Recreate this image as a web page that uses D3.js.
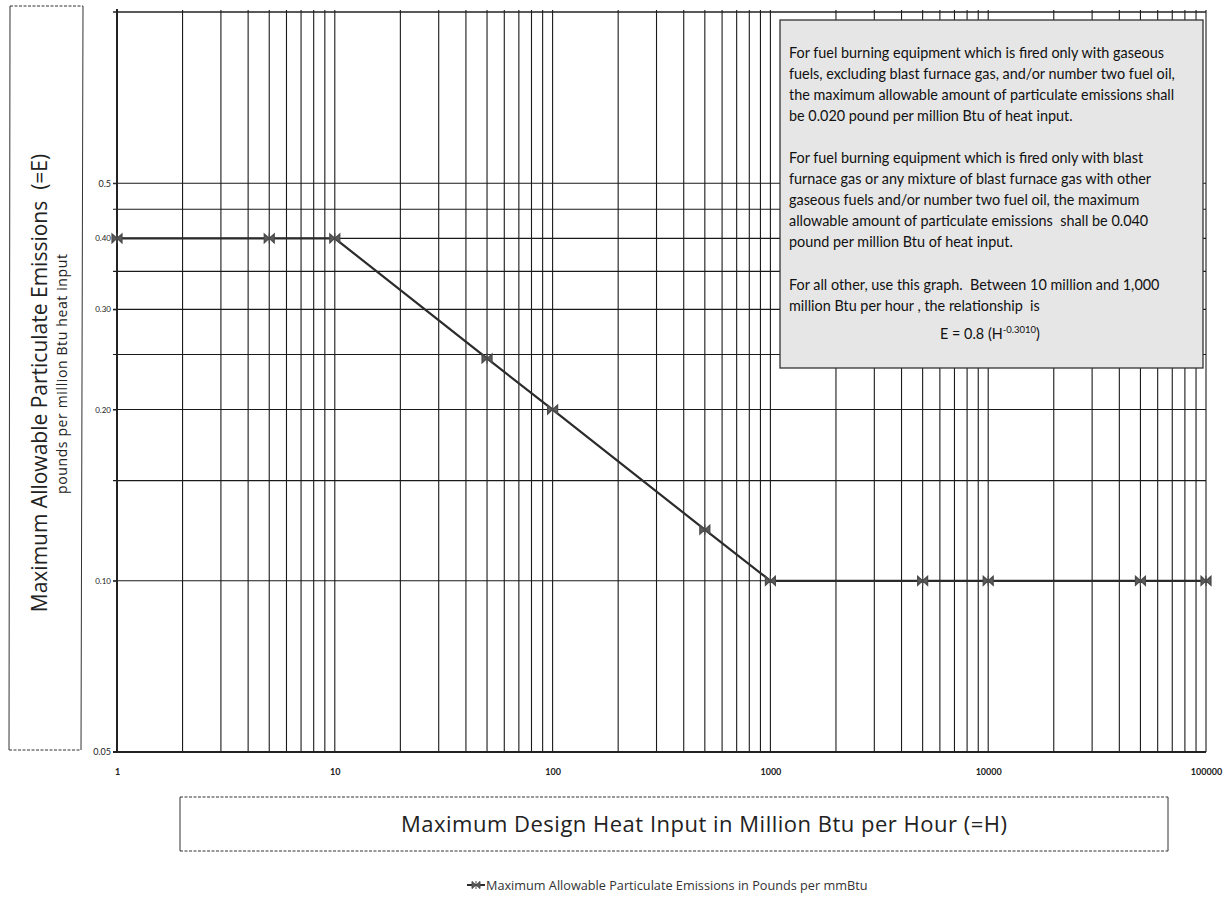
<!DOCTYPE html>
<html>
<head>
<meta charset="utf-8">
<script src="https://cdn.jsdelivr.net/npm/d3@7"></script>
<style>
  body { margin: 0; background: #fff; }
  svg { display: block; }
</style>
</head>
<body>
<div id="chart"></div>
<script>
// data
var heatInput = [1, 5, 10, 50, 100, 500, 1000, 5000, 10000, 50000, 100000];
var emissions = [0.40, 0.40, 0.40, 0.246, 0.20, 0.123, 0.10, 0.10, 0.10, 0.10, 0.10];
var xTickValues = [1, 10, 100, 1000, 10000, 100000];
var yTickValues = [0.05, 0.10, 0.20, 0.30, 0.40, 0.5];
var yTickLabels = ['0.05', '0.10', '0.20', '0.30', '0.40', '0.5'];
var yGridValues = [0.10, 0.15, 0.20, 0.25, 0.30, 0.35, 0.40, 0.45, 0.5];
var noteLines = [
  ['For fuel burning equipment which is fired only with gaseous',
   'fuels, excluding blast furnace gas, and/or number two fuel oil,',
   'the maximum allowable amount of particulate emissions shall',
   'be 0.020 pound per million Btu of heat input.'],
  ['For fuel burning equipment which is fired only with blast',
   'furnace gas or any mixture of blast furnace gas with other',
   'gaseous fuels and/or number two fuel oil, the maximum',
   'allowable amount of particulate emissions  shall be 0.040',
   'pound per million Btu of heat input.'],
  ['For all other, use this graph.  Between 10 million and 1,000',
   'million Btu per hour , the relationship  is']
];

var width = 1226, height = 914;
var plotLeft = 117, plotRight = 1206, plotTop = 12, plotBottom = 752;

var svg = d3.select('#chart').append('svg')
  .attr('width', width).attr('height', height);

var x = d3.scaleLog().domain([1, 100000]).range([plotLeft, plotRight]);
var y = d3.scaleLog().domain([0.05, 1]).range([plotBottom, plotTop]);

// vertical grid lines, every 1..9 in each decade
var xGrid = [];
for (var p = 0; p < 5; p++) {
  for (var m = 1; m < 10; m++) xGrid.push(m * Math.pow(10, p));
}
xGrid.push(100000);

svg.append('g').selectAll('line').data(xGrid).enter().append('line')
  .attr('x1', function(d){ return x(d); }).attr('x2', function(d){ return x(d); })
  .attr('y1', plotTop - 2).attr('y2', plotBottom)
  .style('stroke', '#1a1a1a').style('stroke-width', 1.1);

// horizontal grid lines
svg.append('g').selectAll('line').data(yGridValues).enter().append('line')
  .attr('x1', plotLeft - 4).attr('x2', plotRight)
  .attr('y1', function(d){ return y(d); }).attr('y2', function(d){ return y(d); })
  .style('stroke', '#1a1a1a').style('stroke-width', 1.1);

// frame lines
svg.append('line').attr('x1', plotLeft - 4).attr('x2', plotRight).attr('y1', plotTop).attr('y2', plotTop)
  .style('stroke', '#222').style('stroke-width', 1.6);
svg.append('line').attr('x1', plotLeft - 4).attr('x2', plotRight).attr('y1', plotBottom).attr('y2', plotBottom)
  .style('stroke', '#222').style('stroke-width', 1.8);
svg.append('line').attr('x1', plotLeft).attr('x2', plotLeft).attr('y1', plotTop - 3).attr('y2', plotBottom)
  .style('stroke', '#222').style('stroke-width', 2);

// axes (labels only, lines drawn above)
var xAxis = d3.axisBottom(x).tickValues(xTickValues).tickFormat(d3.format('d')).tickSize(0).tickPadding(17);
svg.append('g').attr('transform', 'translate(0,' + plotBottom + ')').call(xAxis)
  .call(function(g){ g.select('.domain').remove(); })
  .selectAll('text').style('font-family', 'Lato, sans-serif').style('font-size', '9px')
  .style('font-weight', 'bold').style('fill', '#222');

var yAxis = d3.axisLeft(y).tickValues(yTickValues)
  .tickFormat(function(d, i){ return yTickLabels[i]; }).tickSize(4).tickPadding(2);
svg.append('g').attr('transform', 'translate(' + plotLeft + ',0)').call(yAxis)
  .call(function(g){ g.select('.domain').remove(); g.selectAll('line').style('stroke', '#222'); })
  .selectAll('text').style('font-family', 'Lato, sans-serif')
  .style('font-size', function(d){ return (d === 0.05 || d === 0.5) ? '9px' : '8px'; })
  .style('fill', '#222');

// the series
var line = d3.line().x(function(d){ return x(d[0]); }).y(function(d){ return y(d[1]); });
var pts = heatInput.map(function(h, i){ return [h, emissions[i]]; });
svg.append('path').datum(pts).attr('d', line)
  .style('fill', 'none').style('stroke', '#2b2b2b').style('stroke-width', 2.2);

var markerPath = 'M-5,-4.5L0,0L-5,4.5ZM5,-4.5L0,0L5,4.5ZM0,-5L0,5';
svg.append('g').selectAll('path').data(pts).enter().append('path')
  .attr('transform', function(d){ return 'translate(' + x(d[0]) + ',' + y(d[1]) + ')'; })
  .attr('d', markerPath)
  .style('fill', '#5a5a5a').style('stroke', '#4a4a4a').style('stroke-width', 1.2);

// note box
var note = svg.append('g');
note.append('rect').attr('x', 780).attr('y', 20).attr('width', 423).attr('height', 348)
  .style('fill', '#e6e6e6').style('stroke', '#333').style('stroke-width', 1.3);
var baselines = [[58, 79, 100, 121], [163, 184, 205, 226, 247], [290, 311]];
noteLines.forEach(function(par, pi){
  par.forEach(function(t, li){
    note.append('text').attr('x', 789).attr('y', baselines[pi][li]).text(t)
      .style('white-space', 'pre')
      .style('font-family', 'Lato, sans-serif').style('font-size', '14.4px').style('fill', '#111');
  });
});
var formula = note.append('text').attr('x', 990).attr('y', 339).attr('text-anchor', 'middle')
  .style('font-family', 'Lato, sans-serif').style('font-size', '14.4px').style('fill', '#111');
formula.append('tspan').text('E = 0.8 (H');
formula.append('tspan').attr('dy', -6).style('font-size', '9.5px').text('-0.3010');
formula.append('tspan').attr('dy', 6).text(')');

// y title box
var yb = svg.append('g').style('stroke', '#333').style('stroke-width', 1);
yb.append('line').attr('x1', 10).attr('x2', 83).attr('y1', 6).attr('y2', 6).style('stroke-dasharray', '3,1.5');
yb.append('line').attr('x1', 9).attr('x2', 81).attr('y1', 750).attr('y2', 750).style('stroke-dasharray', '3,1.5');
yb.append('line').attr('x1', 10).attr('x2', 9).attr('y1', 6).attr('y2', 750);
yb.append('line').attr('x1', 83).attr('x2', 81).attr('y1', 6).attr('y2', 750);

svg.append('text').attr('transform', 'translate(47,383) rotate(-90)').attr('text-anchor', 'middle')
  .text('Maximum Allowable Particulate Emissions  (=E)')
  .style('white-space', 'pre')
  .style('font-family', '"Open Sans", sans-serif').style('font-size', '21px').style('fill', '#222');
svg.append('text').attr('transform', 'translate(67,374) rotate(-90)').attr('text-anchor', 'middle')
  .attr('textLength', 240).attr('lengthAdjust', 'spacing')
  .text('pounds per million Btu heat input')
  .style('font-family', '"Open Sans", sans-serif').style('font-size', '14px').style('fill', '#222');

// x title box
var xb = svg.append('g').style('stroke', '#333').style('stroke-width', 1);
xb.append('line').attr('x1', 180).attr('x2', 1168).attr('y1', 797).attr('y2', 797).style('stroke-dasharray', '3,1.5');
xb.append('line').attr('x1', 180).attr('x2', 1168).attr('y1', 851).attr('y2', 851).style('stroke-dasharray', '3,1.5');
xb.append('line').attr('x1', 180).attr('x2', 180).attr('y1', 797).attr('y2', 851);
xb.append('line').attr('x1', 1168).attr('x2', 1168).attr('y1', 797).attr('y2', 851);

svg.append('text').attr('x', 704).attr('y', 832).attr('text-anchor', 'middle')
  .attr('textLength', 606).attr('lengthAdjust', 'spacing')
  .text('Maximum Design Heat Input in Million Btu per Hour (=H)')
  .style('font-family', '"Open Sans", sans-serif').style('font-size', '22px').style('fill', '#222');

// legend
var lg = svg.append('g').attr('transform', 'translate(467,885)');
lg.append('line').attr('x1', 0).attr('x2', 18).attr('y1', 0).attr('y2', 0)
  .style('stroke', '#2b2b2b').style('stroke-width', 2);
lg.append('path').attr('transform', 'translate(9,0) scale(0.8)').attr('d', markerPath)
  .style('fill', '#5a5a5a').style('stroke', '#4a4a4a').style('stroke-width', 1.2);
lg.append('text').attr('x', 19).attr('y', 4.5)
  .text('Maximum Allowable Particulate Emissions in Pounds per mmBtu')
  .style('font-family', '"Open Sans", sans-serif').style('font-size', '12.7px').style('fill', '#333');
</script>
</body>
</html>
